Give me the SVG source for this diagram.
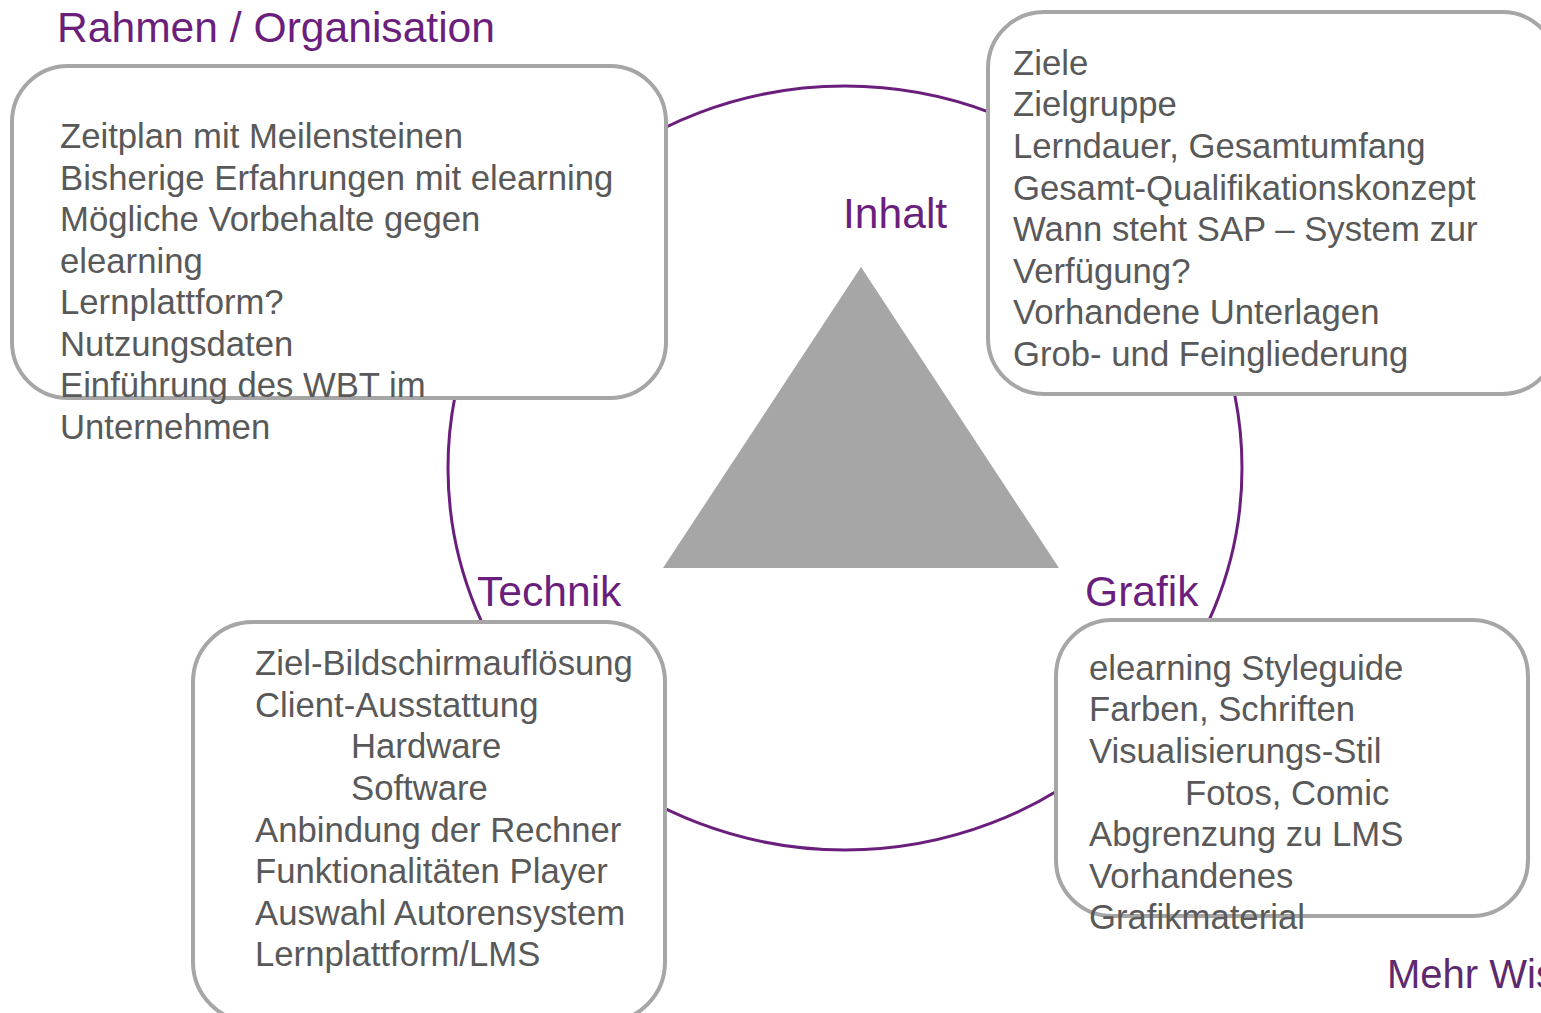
<svg xmlns="http://www.w3.org/2000/svg" width="1541" height="1013" viewBox="0 0 1541 1013">
<style>
.box{fill:#fff;stroke:#a6a6a6;stroke-width:4}
.t{font-family:"Liberation Sans",Arial,sans-serif;font-size:34.7px;fill:#595959}
.h{font-family:"Liberation Sans",Arial,sans-serif;font-size:42.6px;fill:#6b1f7c}
</style>
<rect width="1541" height="1013" fill="#fff"/>
<g id="connectors">
<ellipse cx="845" cy="468" rx="397" ry="382" fill="none" stroke="#6b1f7c" stroke-width="3"/>
</g>
<g id="triangle">
<polygon points="861,267 663,568 1059,568" fill="#a6a6a6"/>
</g>
<g id="rahmen">
<text class="h" x="57" y="42">Rahmen / Organisation</text>
<rect class="box" x="12" y="66" width="654" height="332" rx="56"/>
<text class="t" x="60"><tspan x="60" y="148">Zeitplan mit Meilensteinen</tspan><tspan x="60" y="190">Bisherige Erfahrungen mit elearning</tspan><tspan x="60" y="231">Mögliche Vorbehalte gegen</tspan><tspan x="60" y="273">elearning</tspan><tspan x="60" y="314">Lernplattform?</tspan><tspan x="60" y="356">Nutzungsdaten</tspan><tspan x="60" y="397">Einführung des WBT im</tspan><tspan x="60" y="439">Unternehmen</tspan></text>
</g>
<g id="inhalt">
<text class="h" x="843" y="228">Inhalt</text>
<rect class="box" x="988" y="12" width="570" height="382" rx="56"/>
<text class="t"><tspan x="1013" y="75">Ziele</tspan><tspan x="1013" y="116">Zielgruppe</tspan><tspan x="1013" y="158">Lerndauer, Gesamtumfang</tspan><tspan x="1013" y="200">Gesamt-Qualifikationskonzept</tspan><tspan x="1013" y="241">Wann steht SAP – System zur</tspan><tspan x="1013" y="283">Verfügung?</tspan><tspan x="1013" y="324">Vorhandene Unterlagen</tspan><tspan x="1013" y="366">Grob- und Feingliederung</tspan></text>
</g>
<g id="technik">
<text class="h" x="477" y="606">Technik</text>
<rect class="box" x="193" y="622" width="472" height="400" rx="60"/>
<text class="t"><tspan x="255" y="675">Ziel-Bildschirmauflösung</tspan><tspan x="255" y="717">Client-Ausstattung</tspan><tspan x="351" y="758">Hardware</tspan><tspan x="351" y="800">Software</tspan><tspan x="255" y="842">Anbindung der Rechner</tspan><tspan x="255" y="883">Funktionalitäten Player</tspan><tspan x="255" y="925">Auswahl Autorensystem</tspan><tspan x="255" y="966">Lernplattform/LMS</tspan></text>
</g>
<g id="grafik">
<text class="h" x="1085" y="606">Grafik</text>
<rect class="box" x="1056" y="620" width="472" height="296" rx="56"/>
<text class="t"><tspan x="1089" y="680">elearning Styleguide</tspan><tspan x="1089" y="721">Farben, Schriften</tspan><tspan x="1089" y="763">Visualisierungs-Stil</tspan><tspan x="1185" y="805">Fotos, Comic</tspan><tspan x="1089" y="846">Abgrenzung zu LMS</tspan><tspan x="1089" y="888">Vorhandenes</tspan><tspan x="1089" y="929">Grafikmaterial</tspan></text>
</g>
<g id="footer">
<text class="h" x="1387" y="988" style="fill:#5e2a6e;font-size:40px">Mehr Wis</text>
</g>
</svg>
